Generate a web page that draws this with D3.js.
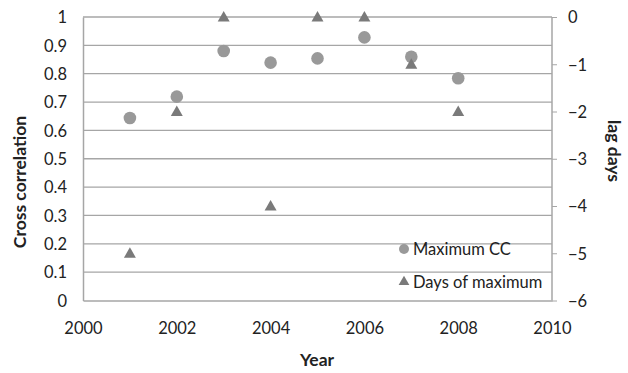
<!DOCTYPE html>
<html>
<head>
<meta charset="utf-8">
<script src="https://cdn.jsdelivr.net/npm/d3@7"></script>
<style>
  html, body { margin: 0; padding: 0; background: #fff; }
  svg text { font-family: Lato, "Open Sans", sans-serif; fill: #222; }
</style>
</head>
<body>
<svg id="chart" width="628" height="373"></svg>
<script>
// Yearly cross-correlation maxima and the lag (days) at which they occur
const years = [2001, 2002, 2003, 2004, 2005, 2006, 2007, 2008];
const maxCC = [0.644, 0.719, 0.880, 0.839, 0.854, 0.928, 0.860, 0.784];
const lagDays = [-5, -2, 0, -4, 0, 0, -1, -2];
const xTicks = [2000, 2002, 2004, 2006, 2008, 2010];
const leftTicks = [0, 0.1, 0.2, 0.3, 0.4, 0.5, 0.6, 0.7, 0.8, 0.9, 1];
const rightTicks = [0, -1, -2, -3, -4, -5, -6];
const seriesNames = ["Maximum CC", "Days of maximum"];

const svg = d3.select("#chart");
const m = { left: 83, right: 552, top: 17, bottom: 300.5 };

const x = d3.scaleLinear().domain([2000, 2010]).range([m.left, m.right]);
const yL = d3.scaleLinear().domain([0, 1]).range([m.bottom, m.top]);
const yR = d3.scaleLinear().domain([-6, 0]).range([m.bottom, m.top]);

const grid = "#a6a6a6";
const tickFont = "16.5px";
const titleFont = "17.5px";

// horizontal gridlines
svg.append("g").selectAll("line").data(leftTicks.slice(1)).join("line")
  .attr("x1", m.left).attr("x2", m.right)
  .attr("y1", d => yL(d)).attr("y2", d => yL(d))
  .attr("stroke", grid).attr("stroke-width", 1.3);

// left axis (labels only, plus the frame line)
const gL = svg.append("g").attr("transform", `translate(${m.left},0)`)
  .call(d3.axisLeft(yL).tickValues(leftTicks).tickSize(0).tickPadding(16)
    .tickFormat(d => d3.format("~g")(d)));
gL.select(".domain").attr("stroke", grid).attr("stroke-width", 1.5);
gL.selectAll("text").style("font-size", tickFont).attr("dy", "0.35em").attr("fill", "#222");

// right axis with short outward ticks
const gR = svg.append("g").attr("transform", `translate(${m.right},0)`)
  .call(d3.axisRight(yR).tickValues(rightTicks).tickSize(5).tickPadding(11)
    .tickFormat(d => d3.format("~g")(d)));
gR.select(".domain").attr("stroke", grid).attr("stroke-width", 1.5).attr("d", `M0,${m.top}V${m.bottom}`);
gR.selectAll(".tick line").attr("stroke", grid);
gR.selectAll("text").style("font-size", tickFont).attr("dy", "0.35em").attr("fill", "#222");

// bottom axis
const gB = svg.append("g").attr("transform", `translate(0,${m.bottom})`)
  .call(d3.axisBottom(x).tickValues(xTicks).tickSize(0).tickPadding(22)
    .tickFormat(d3.format("d")));
gB.select(".domain").attr("stroke", grid).attr("stroke-width", 1.5);
gB.selectAll("text").style("font-size", tickFont).attr("fill", "#222");

// axis titles
svg.append("text").attr("transform", "translate(26,182) rotate(-90)")
  .attr("text-anchor", "middle").style("font-size", titleFont).style("font-weight", "bold")
  .text("Cross correlation");
svg.append("text").attr("transform", "translate(608,151) rotate(90)")
  .attr("text-anchor", "middle").style("font-size", titleFont).style("font-weight", "bold")
  .text("lag days");
svg.append("text").attr("x", 317).attr("y", 366)
  .attr("text-anchor", "middle").style("font-size", titleFont).style("font-weight", "bold")
  .text("Year");

const circleColor = "#999999";
const triColor = "#7a7a7a";
const tri = d3.symbol().type(d3.symbolTriangle).size(62);

// series: maximum cross correlation (left axis)
svg.append("g").selectAll("circle").data(years).join("circle")
  .attr("cx", d => x(d)).attr("cy", (d, i) => yL(maxCC[i]))
  .attr("r", 6.3).attr("fill", circleColor);

// series: lag of maximum (right axis)
svg.append("g").selectAll("path").data(years).join("path")
  .attr("d", tri)
  .attr("transform", (d, i) => `translate(${x(d)},${yR(lagDays[i]) + 1})`)
  .attr("fill", triColor);

// legend
const lg = svg.append("g");
lg.append("circle").attr("cx", 404).attr("cy", 249).attr("r", 5).attr("fill", circleColor);
lg.append("text").attr("x", 413).attr("y", 255).style("font-size", tickFont).text(seriesNames[0]);
lg.append("path").attr("d", d3.symbol().type(d3.symbolTriangle).size(50))
  .attr("transform", "translate(404,282)").attr("fill", triColor);
lg.append("text").attr("x", 413).attr("y", 287.5).style("font-size", tickFont).text(seriesNames[1]);
</script>
</body>
</html>
